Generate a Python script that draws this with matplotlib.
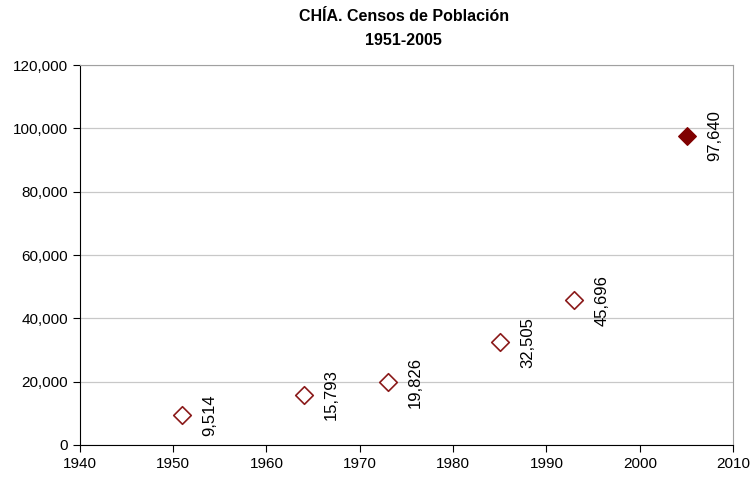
import matplotlib
matplotlib.use('Agg')
import matplotlib.pyplot as plt
from matplotlib.ticker import FuncFormatter, MultipleLocator

plt.rcParams['font.family'] = ['Liberation Sans', 'DejaVu Sans']

# ── Data ───────────────────────────────────────────────────────────────
years      = [1951, 1964, 1973, 1985, 1993]
population = [9514, 15793, 19826, 32505, 45696]
proj_year  = [2005]
proj_pop   = [97640]

RED = '#800000'

fig = plt.figure(figsize=(7.52, 4.79), dpi=100, facecolor='white')
ax = fig.add_axes([0.106, 0.071, 0.869, 0.793])

ax.scatter(years, population, marker='D', s=80, facecolors='white',
           edgecolors='#8b1a1a', linewidths=1.2, zorder=3)
ax.scatter(proj_year, proj_pop, marker='D', s=80, color=RED, zorder=3)

for x, y in zip(years + proj_year, population + proj_pop):
    ax.annotate(f'{y:,}', xy=(x, y), xytext=(20, 0), textcoords='offset points',
                rotation=90, ha='center', va='center', fontsize=12)

ax.set_xlim(1940, 2010)
ax.set_ylim(0, 120000)
ax.xaxis.set_major_locator(MultipleLocator(10))
ax.yaxis.set_major_locator(MultipleLocator(20000))
ax.yaxis.set_major_formatter(FuncFormatter(lambda v, p: f'{int(v):,}'))
ax.tick_params(labelsize=11, length=5, direction='out')
ax.grid(axis='y', color='#c8c8c8', linewidth=0.9)
ax.set_axisbelow(True)

for side in ['top', 'right']:
    ax.spines[side].set_color('#a0a0a0')
for side in ['left', 'bottom']:
    ax.spines[side].set_color('black')

fig.text(0.537, 0.965, 'CHÍA. Censos de Población', ha='center', va='center',
         fontsize=11.5, fontweight='bold')
fig.text(0.537, 0.915, '1951-2005', ha='center', va='center',
         fontsize=11.5, fontweight='bold')

fig.savefig('out.png', dpi=100, facecolor='white')
